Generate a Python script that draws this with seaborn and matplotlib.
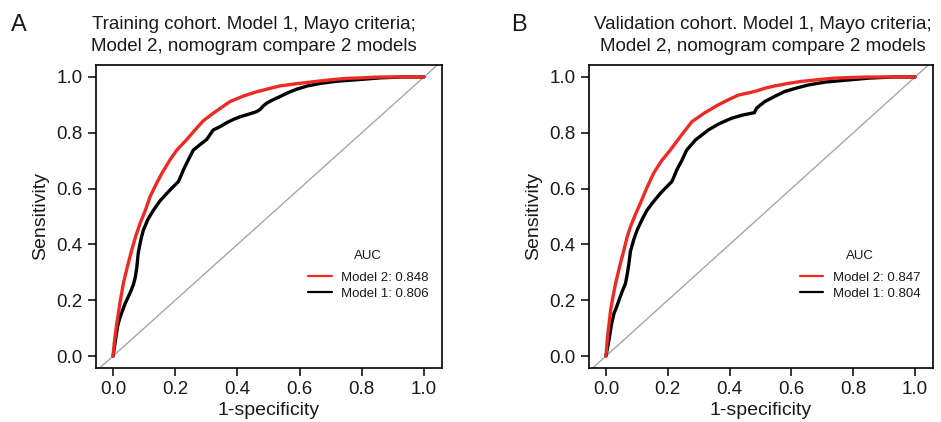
import numpy as np
import pandas as pd
import matplotlib
matplotlib.use("Agg")
import matplotlib.pyplot as plt
import seaborn as sns
from matplotlib.lines import Line2D

sns.set_theme(style="white")
plt.rcParams['font.family'] = ['Liberation Sans', 'DejaVu Sans']

# ---------------- data ----------------
# Training cohort
train_m2_fpr = [0.0, 0.004, 0.012, 0.022, 0.033, 0.047, 0.06, 0.073, 0.087, 0.103, 0.119, 0.138, 0.157, 0.183, 0.205,
                0.237, 0.265, 0.29, 0.322, 0.376, 0.42, 0.462, 0.5, 0.537, 0.59, 0.644, 0.70, 0.751, 0.80, 0.858, 0.93, 1.0]
train_m2_tpr = [0.0, 0.05, 0.117, 0.19, 0.26, 0.325, 0.38, 0.43, 0.476, 0.52, 0.571, 0.615, 0.655, 0.703, 0.738,
                0.776, 0.812, 0.843, 0.870, 0.912, 0.932, 0.947, 0.958, 0.968, 0.976, 0.983, 0.99, 0.995, 0.997, 1.0, 1.0, 1.0]
train_m1_fpr = [0.0, 0.008, 0.015, 0.023, 0.031, 0.039, 0.05, 0.058, 0.065, 0.071, 0.076, 0.081, 0.089, 0.097, 0.112, 0.13,
                0.15, 0.173, 0.19, 0.21, 0.218, 0.226, 0.234, 0.242, 0.258, 0.28, 0.301, 0.322, 0.344, 0.365, 0.387,
                0.41, 0.44, 0.462, 0.473, 0.483, 0.494, 0.51, 0.537, 0.563, 0.59, 0.625, 0.666, 0.72, 0.794, 0.86, 0.93, 1.0]
train_m1_tpr = [0.0, 0.06, 0.11, 0.141, 0.165, 0.189, 0.215, 0.235, 0.255, 0.28, 0.315, 0.37, 0.415, 0.45, 0.49, 0.523,
                0.555, 0.583, 0.603, 0.625, 0.645, 0.667, 0.685, 0.703, 0.738, 0.758, 0.776, 0.81, 0.822, 0.836, 0.848,
                0.858, 0.868, 0.876, 0.884, 0.896, 0.906, 0.916, 0.93, 0.944, 0.956, 0.968, 0.977, 0.985, 0.991, 0.997, 1.0, 1.0]

# Validation cohort
valid_m2_fpr = [0.0, 0.005, 0.015, 0.023, 0.031, 0.045, 0.058, 0.068, 0.079, 0.095, 0.111, 0.131, 0.154, 0.18, 0.208,
                0.243, 0.278, 0.32, 0.363, 0.395, 0.428, 0.481, 0.515, 0.546, 0.59, 0.631, 0.69, 0.739, 0.79, 0.846, 0.92, 1.0]
valid_m2_tpr = [0.0, 0.07, 0.165, 0.215, 0.26, 0.325, 0.38, 0.425, 0.463, 0.507, 0.547, 0.6, 0.655, 0.7, 0.738,
                0.79, 0.84, 0.872, 0.9, 0.918, 0.935, 0.948, 0.96, 0.968, 0.977, 0.984, 0.991, 0.996, 0.998, 1.0, 1.0, 1.0]
valid_m1_fpr = [0.0, 0.01, 0.018, 0.026, 0.034, 0.042, 0.052, 0.063, 0.069, 0.074, 0.079, 0.09, 0.101, 0.117, 0.133,
                0.155, 0.176, 0.195, 0.213, 0.221, 0.229, 0.245, 0.261, 0.29, 0.331, 0.365, 0.406, 0.44, 0.47, 0.48,
                0.487, 0.5, 0.514, 0.545, 0.578, 0.615, 0.653, 0.71, 0.781, 0.85, 0.93, 1.0]
valid_m1_tpr = [0.0, 0.06, 0.115, 0.153, 0.175, 0.2, 0.23, 0.26, 0.295, 0.33, 0.375, 0.418, 0.452, 0.49, 0.523,
                0.555, 0.583, 0.605, 0.625, 0.645, 0.667, 0.7, 0.738, 0.775, 0.81, 0.832, 0.852, 0.863, 0.87, 0.872,
                0.888, 0.9, 0.912, 0.93, 0.948, 0.96, 0.971, 0.982, 0.989, 0.996, 1.0, 1.0]

model_names = ["Model 2", "Model 1"]
train_auc = [0.848, 0.806]
valid_auc = [0.847, 0.804]
panel_letters = ["A", "B"]
titles = ["Training cohort. Model 1, Mayo criteria;\nModel 2, nomogram compare 2 models",
          "Validation cohort. Model 1, Mayo criteria;\nModel 2, nomogram compare 2 models"]
tick_vals = [0.0, 0.2, 0.4, 0.6, 0.8, 1.0]
tick_labels = ["0.0", "0.2", "0.4", "0.6", "0.8", "1.0"]
colors = {"Model 2": "#ee2a24", "Model 1": "#000000"}

def make_df(m2x, m2y, m1x, m1y):
    d1 = pd.DataFrame({"fpr": m2x, "tpr": m2y, "model": "Model 2", "order": range(len(m2x))})
    d2 = pd.DataFrame({"fpr": m1x, "tpr": m1y, "model": "Model 1", "order": range(len(m1x))})
    return pd.concat([d2, d1], ignore_index=True)

dfs = [make_df(train_m2_fpr, train_m2_tpr, train_m1_fpr, train_m1_tpr),
       make_df(valid_m2_fpr, valid_m2_tpr, valid_m1_fpr, valid_m1_tpr)]
aucs = [train_auc, valid_auc]

W, H = 941, 422
fig = plt.figure(figsize=(W / 100, H / 100), dpi=100)
fig.patch.set_facecolor("white")

axes_px = [(96, 65, 442, 368), (589, 65, 933, 368)]
title_cx = [254, 763]
letter_x = [19, 519]
txt_col = "#1a1a1a"

for i in range(2):
    l, t, r, b = axes_px[i]
    ax = fig.add_axes([l / W, 1 - b / H, (r - l) / W, (b - t) / H])
    ax.set_facecolor("white")
    ax.plot([-0.2, 1.2], [-0.2, 1.2], color="#a6a6a6", lw=1.0, zorder=1)
    sns.lineplot(data=dfs[i], x="fpr", y="tpr", hue="model", palette=colors,
                 hue_order=["Model 1", "Model 2"], sort=False, estimator=None,
                 units="model", lw=2.4, ax=ax, legend=False, zorder=3)
    ax.set_xlim(-0.055, 1.058)
    ax.set_ylim(-0.043, 1.043)
    ax.set_xticks(tick_vals)
    ax.set_xticklabels(tick_labels)
    ax.set_yticks(tick_vals)
    ax.set_yticklabels(tick_labels)
    ax.tick_params(axis="both", direction="out", length=6, width=1.1, color="black",
                   labelsize=13.5, labelcolor=txt_col, pad=3.5, left=True, bottom=True)
    for s in ax.spines.values():
        s.set_visible(True)
        s.set_color("black")
        s.set_linewidth(1.2)
    ax.set_xlabel("1-specificity", fontsize=14, color=txt_col, labelpad=3)
    ax.set_ylabel("Sensitivity", fontsize=14, color=txt_col, labelpad=5)
    ax.grid(False)

    handles = [Line2D([0], [0], color=colors[m], lw=1.6) for m in model_names]
    labels = [f"{m}: {a:.3f}" for m, a in zip(model_names, aucs[i])]
    leg = ax.legend(handles, labels, title="AUC", loc="upper left",
                    bbox_to_anchor=(0.612, 0.39), frameon=False, fontsize=9.5,
                    title_fontsize=9.5, handlelength=1.8, handletextpad=0.75,
                    labelspacing=0.28, borderpad=0, borderaxespad=0)
    leg._legend_box.sep = 7
    for txt in leg.get_texts():
        txt.set_color(txt_col)
    leg.get_title().set_color(txt_col)

    fig.text(title_cx[i] / W, 1 - 35.5 / H, titles[i], ha="center", va="center",
             fontsize=13.5, color=txt_col, linespacing=1.33)
    fig.text(letter_x[i] / W, 1 - 25 / H, panel_letters[i], ha="center", va="center",
             fontsize=17, color=txt_col)

fig.savefig("out.png", dpi=100, facecolor="white")
